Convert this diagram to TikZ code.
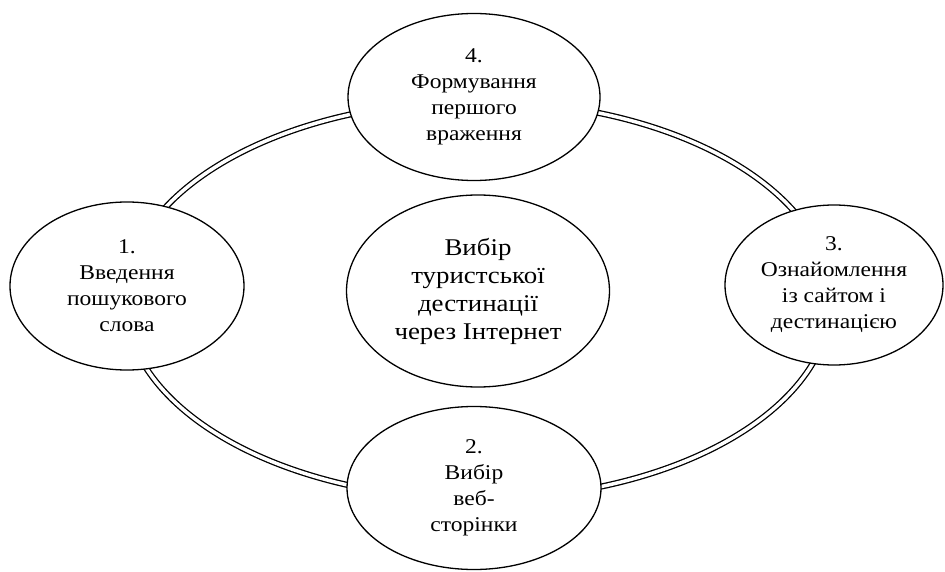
\documentclass[tikz,border=0pt]{standalone}
\usepackage{fontspec}
\setmainfont{Liberation Serif}
\newfontfamily\uaserif[FakeStretch=1.12]{Liberation Serif}
\usetikzlibrary{shapes.geometric}
\tikzset{
  ringline/.style={draw, shape=ellipse, inner sep=0pt, line width=1.3pt, double=white, double distance=3.5pt},
  stage/.style={draw, shape=ellipse, fill=white, inner sep=0pt, line width=1.3pt, align=center,
    font=\uaserif\fontsize{21}{26}\selectfont},
  core/.style={stage, font=\uaserif\fontsize{24}{28}\selectfont}
}
\begin{document}
\begin{tikzpicture}[x=1pt,y=-1pt]
\useasboundingbox (0,0) rectangle (945,572);
\node[ringline, minimum width=706pt, minimum height=398pt] (ring) at (478,300) {};
\node[stage, minimum width=252pt, minimum height=167pt] (s4) at (474,97) {4.\\Формування\\першого\\враження};
\node[stage, minimum width=234pt, minimum height=168pt] (s1) at (127,286) {1.\\Введення\\пошукового\\слова};
\node[stage, minimum width=218pt, minimum height=160pt] (s3) at (834,285) {3.\\Ознайомлення\\із сайтом і\\дестинацією};
\node[stage, minimum width=254pt, minimum height=163pt] (s2) at (474,488) {2.\\Вибір\\веб-\\сторінки};
\node[core, minimum width=263pt, minimum height=192pt] (c) at (478,291) {Вибір\\туристської\\дестинації\\через Інтернет};
\end{tikzpicture}
\end{document}
